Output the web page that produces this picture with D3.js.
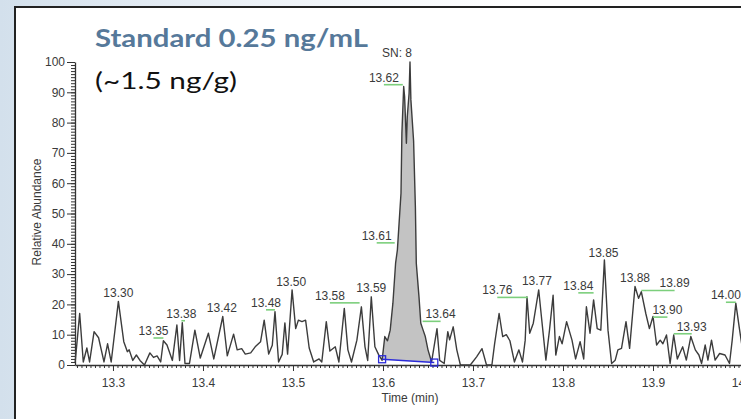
<!DOCTYPE html>
<html>
<head>
<meta charset="utf-8">
<script src="https://cdn.jsdelivr.net/npm/d3@7"></script>
<style>
  html, body { margin: 0; padding: 0; background: #fff; }
  svg { display: block; }
  .tick text { font-family: "Liberation Sans", Arial, sans-serif; font-size: 12px; fill: #3a3a3a; }
</style>
</head>
<body>
<svg id="chart" width="741" height="419"></svg>
<script>
// chromatogram trace, time (min) vs relative abundance (%)
var times = [
  13.258, 13.263, 13.267, 13.271, 13.274, 13.279, 13.284, 13.290, 13.294, 13.298,
  13.306, 13.312, 13.316, 13.318, 13.322, 13.326, 13.330, 13.335, 13.341, 13.345,
  13.349, 13.353, 13.356, 13.360, 13.366, 13.371, 13.374, 13.377, 13.380, 13.385,
  13.391, 13.397, 13.406, 13.412, 13.422, 13.427, 13.434, 13.438, 13.443, 13.447,
  13.453, 13.458, 13.464, 13.468, 13.473, 13.477, 13.480, 13.484, 13.488, 13.491,
  13.494, 13.499, 13.503, 13.506, 13.510, 13.514, 13.518, 13.523, 13.529, 13.532,
  13.537, 13.541, 13.547, 13.551, 13.557, 13.561, 13.565, 13.571, 13.576, 13.580,
  13.583, 13.587, 13.591, 13.595, 13.599, 13.602, 13.605, 13.608, 13.611, 13.614,
  13.616, 13.620, 13.621, 13.623, 13.624, 13.626, 13.627, 13.629, 13.630, 13.631,
  13.634, 13.636, 13.637, 13.640, 13.642, 13.644, 13.647, 13.650, 13.654, 13.660,
  13.663, 13.668, 13.672, 13.674, 13.678, 13.682, 13.686, 13.697, 13.704, 13.710,
  13.715, 13.721, 13.724, 13.729, 13.733, 13.737, 13.741, 13.746, 13.751, 13.755,
  13.758, 13.760, 13.763, 13.767, 13.773, 13.776, 13.781, 13.785, 13.789, 13.792,
  13.796, 13.799, 13.804, 13.810, 13.814, 13.819, 13.823, 13.826, 13.830, 13.834,
  13.838, 13.842, 13.846, 13.850, 13.854, 13.858, 13.861, 13.865, 13.870, 13.874,
  13.880, 13.884, 13.887, 13.892, 13.896, 13.900, 13.904, 13.908, 13.911, 13.915,
  13.919, 13.923, 13.927, 13.933, 13.937, 13.942, 13.947, 13.951, 13.954, 13.958,
  13.961, 13.965, 13.969, 13.974, 13.980, 13.985, 13.988, 13.992, 13.996, 13.999,
  14.003
];
var abundance = [
  1, 17, 1, 5.6, 1, 11, 9, 1, 7, 1,
  21, 7.7, 4.4, 5, 1.5, 3.3, 1.5, 0, 4, 2.5,
  3, 1, 8, 6.6, 1.5, 13.2, 1.5, 14, 0.5, 0.5,
  11.5, 2.3, 10.5, 2, 16, 3, 10.2, 5, 5.4, 3.6,
  4, 6, 7.7, 14.8, 3.6, 6.5, 17.6, 1, 3.5, 13.9,
  3.6, 24.8, 12, 14.8, 14.3, 14.8, 5.6, 1, 2, 1,
  14.3, 4.6, 6, 1, 18.7, 5, 1, 8.2, 19.2, 6,
  1.5, 22.5, 6, 3.5, 1.5, 9.4, 8, 11.5, 20.4, 33.6,
  38, 56.7, 76.5, 91.9, 88.6, 73.2, 82, 89.7, 100, 87.5,
  74, 52, 33.6, 22.5, 13.8, 12, 9.4, 5, 1, 12,
  1.5, 0.5, 11, 8.3, 12.6, 5, 0, 0, 2.7, 5.4,
  0, 0, 7, 17, 9.4, 10, 8, 1, 5, 1,
  8.2, 22.5, 10.5, 13.8, 24.8, 16, 1.6, 11.5, 23, 3.3,
  9.4, 7, 14.3, 8.2, 2, 7.7, 2, 19.2, 10.5, 21.5,
  12, 11.5, 34.7, 11.5, 0.5, 1.6, 5, 5.5, 14.3, 5.5,
  25.9, 22, 24.2, 17, 12, 16, 6.6, 8.2, 7, 9.9,
  0.5, 9.9, 2, 6, 1.6, 9.4, 5, 3.3, 0.5, 6.6,
  1.6, 8.2, 1.6, 3.8, 3.3, 0.5, 8.2, 20.4, 12, 6,
  3
];

// peak labels: text, apex time, label centre time, label level
var labelText  = ["13.30", "13.35", "13.38", "13.42", "13.48", "13.50", "13.58", "13.59", "13.61", "13.62",
                  "13.64", "13.76", "13.77", "13.84", "13.85", "13.88", "13.89", "13.90", "13.93", "14.00"];
var labelApex  = [13.306, 13.356, 13.380, 13.421, 13.480, 13.498, 13.574, 13.587, 13.613, 13.622,
                  13.644, 13.761, 13.771, 13.834, 13.845, 13.880, 13.887, 13.900, 13.923, 13.992];
var labelAt    = [13.306, 13.345, 13.376, 13.421, 13.470, 13.498, 13.541, 13.587, 13.593, 13.601,
                  13.664, 13.727, 13.771, 13.817, 13.845, 13.880, 13.924, 13.916, 13.943, 13.981];
var labelLevel = [22.5, 9.9, 15.6, 17.6, 19.2, 26.2, 21.5, 24.2, 41.3, 93.5,
                  15.4, 23.3, 26.4, 24.8, 35.7, 27.5, 25.6, 16.8, 11.3, 21.7];

// integration baseline of the main peak [time, abundance]
var integStart = [13.599, 1.9];
var integEnd   = [13.657, 0.8];

var yTicks = d3.range(0, 101, 10);
var xTicks = [13.3, 13.4, 13.5, 13.6, 13.7, 13.8, 13.9, 14.0];

var svg = d3.select("#chart");
var W = 741, H = 419;

// background
var defs = svg.append("defs");
var grad = defs.append("linearGradient").attr("id", "bg").attr("x1", "0").attr("x2", "1").attr("y1", "0").attr("y2", "0");
grad.append("stop").attr("offset", "0%").attr("stop-color", "#d3e0ec");
grad.append("stop").attr("offset", "35%").attr("stop-color", "#edf2f7");
grad.append("stop").attr("offset", "70%").attr("stop-color", "#ffffff");
svg.append("rect").attr("width", W).attr("height", H).attr("fill", "url(#bg)");

// the slide box
svg.append("rect")
  .attr("x", 15).attr("y", 7).attr("width", 800).attr("height", 500)
  .attr("fill", "#fff").attr("stroke", "#222").attr("stroke-width", 2);

var x = d3.scaleLinear().domain([13.2578, 14.0511]).range([75, 789]);
var y = d3.scaleLinear().domain([0, 100]).range([365, 62]);

var trace = times.map(function(t, i) { return { t: t, v: abundance[i] }; });

// filled area of the integrated peak
var fillPts = [{ t: integStart[0], v: integStart[1] }]
  .concat(trace.filter(function(d) { return d.t > integStart[0] && d.t < integEnd[0]; }))
  .concat([{ t: integEnd[0], v: integEnd[1] }]);
svg.append("path")
  .attr("d", d3.line().x(function(d) { return x(d.t); }).y(function(d) { return y(d.v); })(fillPts) + "Z")
  .attr("fill", "#c3c3c3");

// axes
var yMinor = d3.axisLeft(y).tickValues(d3.range(0, 101, 1)).tickSize(4).tickFormat("").tickSizeOuter(0);
svg.append("g").attr("transform", "translate(75,0)").call(yMinor)
  .call(function(g) { g.select(".domain").remove(); })
  .selectAll("line").attr("stroke", "#333");

var yAxis = d3.axisLeft(y).tickValues(yTicks).tickSize(8).tickPadding(2).tickSizeOuter(0);
svg.append("g").attr("transform", "translate(75,0)").call(yAxis)
  .call(function(g) { g.select(".domain").attr("stroke", "#333").attr("stroke-width", 1.3); g.selectAll("line").attr("stroke", "#333"); });

var xMinor = d3.axisBottom(x).tickValues(d3.range(13.26, 14.06, 0.005)).tickSize(3).tickFormat("").tickSizeOuter(0);
svg.append("g").attr("transform", "translate(0,365)").call(xMinor)
  .call(function(g) { g.select(".domain").remove(); })
  .selectAll("line").attr("stroke", "#333");

var xAxis = d3.axisBottom(x).tickValues(xTicks).tickSize(6).tickPadding(7).tickSizeOuter(0)
  .tickFormat(d3.format(".1f"));
svg.append("g").attr("transform", "translate(0,365)").call(xAxis)
  .call(function(g) { g.select(".domain").attr("stroke", "#333").attr("stroke-width", 1.3); g.selectAll("line").attr("stroke", "#333"); });

// axis titles
svg.append("text")
  .attr("transform", "translate(41,212) rotate(-90)")
  .attr("text-anchor", "middle")
  .style("font-family", "Liberation Sans, Arial, sans-serif").style("font-size", "12px").style("fill", "#3a3a3a")
  .text("Relative Abundance");
svg.append("text")
  .attr("x", 410).attr("y", 402)
  .attr("text-anchor", "middle")
  .style("font-family", "Liberation Sans, Arial, sans-serif").style("font-size", "12px").style("fill", "#3a3a3a")
  .text("Time (min)");

// trace
svg.append("path")
  .attr("d", d3.line().x(function(d) { return x(d.t); }).y(function(d) { return y(d.v); })(trace))
  .attr("fill", "none").attr("stroke", "#3c3c3c").attr("stroke-width", 1.4).attr("stroke-linejoin", "round");

// integration baseline
svg.append("line")
  .attr("x1", x(integStart[0])).attr("y1", y(integStart[1]))
  .attr("x2", x(integEnd[0])).attr("y2", y(integEnd[1]))
  .attr("stroke", "#2b2bd9").attr("stroke-width", 1.5);
[integStart, integEnd].forEach(function(p) {
  svg.append("rect")
    .attr("x", x(p[0]) - 3.5).attr("y", y(p[1]) - 3.5).attr("width", 7).attr("height", 7)
    .attr("fill", "none").attr("stroke", "#2b2bd9").attr("stroke-width", 1.3);
});

// peak labels with green leader lines
var labels = svg.append("g").selectAll("g")
  .data(labelText.map(function(t, i) { return { text: t, apex: labelApex[i], at: labelAt[i], level: labelLevel[i] }; }))
  .enter().append("g");
labels.filter(function(d) { return Math.abs(d.apex - d.at) > 0.002; })
  .append("line")
  .attr("x1", function(d) { return x(d.at); })
  .attr("x2", function(d) { return x(d.apex); })
  .attr("y1", function(d) { return y(d.level) + 3; })
  .attr("y2", function(d) { return y(d.level) + 3; })
  .attr("stroke", "#7ccf7c").attr("stroke-width", 1.6);
labels.append("text")
  .attr("x", function(d) { return x(d.at); })
  .attr("y", function(d) { return y(d.level); })
  .attr("text-anchor", "middle")
  .style("font-family", "Liberation Sans, Arial, sans-serif").style("font-size", "12px").style("fill", "#3a3a3a")
  .text(function(d) { return d.text; });

svg.append("text")
  .attr("x", 397).attr("y", 57)
  .attr("text-anchor", "middle")
  .style("font-family", "Liberation Sans, Arial, sans-serif").style("font-size", "12px").style("fill", "#3a3a3a")
  .text("SN: 8");

// slide title
svg.append("text")
  .attr("x", 95).attr("y", 47)
  .attr("textLength", 273).attr("lengthAdjust", "spacingAndGlyphs")
  .style("font-family", "Lato, 'Open Sans', sans-serif").style("font-weight", "bold").style("font-size", "24px")
  .style("fill", "#56799a")
  .text("Standard 0.25 ng/mL");
svg.append("text")
  .attr("x", 95).attr("y", 89)
  .attr("textLength", 142).attr("lengthAdjust", "spacingAndGlyphs")
  .style("font-family", "Lato, 'Open Sans', sans-serif").style("font-size", "24px")
  .style("fill", "#111")
  .text("(~1.5 ng/g)");
</script>
</body>
</html>
